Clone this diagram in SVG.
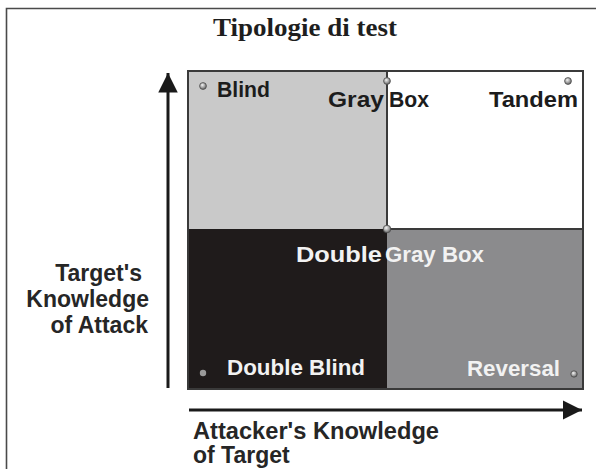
<svg xmlns="http://www.w3.org/2000/svg" width="596" height="469" viewBox="0 0 596 469">
  <style>
    .title { font-family: "Liberation Serif", "Times New Roman", serif; font-weight: bold; font-size: 26px; fill: #1e1e1e; }
    .axis { font-family: "Liberation Sans", Arial, sans-serif; font-weight: bold; font-size: 23px; fill: #262626; }
    .q { font-family: "Liberation Sans", Arial, sans-serif; font-weight: bold; font-size: 22px; }
    .dark { fill: #1c1c1c; }
    .light { fill: #f2f2f2; }
    .cell { stroke: none; }
    .grid { fill: none; stroke: #3a3a3a; stroke-width: 2; }
    .axisline { stroke: #1a1a1a; stroke-width: 3; fill: none; }
    .bullet { fill: url(#ball); stroke: #4a4a4a; stroke-width: 0.8; }
  </style>
  <defs>
    <radialGradient id="ball" cx="0.4" cy="0.35" r="0.7">
      <stop offset="0" stop-color="#f4f4f4"/>
      <stop offset="0.5" stop-color="#a8a8a8"/>
      <stop offset="1" stop-color="#5a5a5a"/>
    </radialGradient>
    <marker id="arrow" viewBox="0 0 10 10" refX="10" refY="5" markerWidth="6.5" markerHeight="6.5" orient="auto" markerUnits="strokeWidth">
      <path d="M0,0 L10,5 L0,10 Z" fill="#1a1a1a"/>
    </marker>
  </defs>

  <rect x="0" y="0" width="596" height="469" fill="#ffffff"/>
  <path d="M6.5,469 V8.5 H596" fill="none" stroke="#4a4a4a" stroke-width="1.6"/>

  <text class="title" x="305" y="36" text-anchor="middle" textLength="184" lengthAdjust="spacingAndGlyphs">Tipologie di test</text>

  <g id="quadrant-blind">
    <rect class="cell" x="188" y="71" width="199" height="158" fill="#c9c9c9"/>
  </g>
  <g id="quadrant-tandem">
    <rect class="cell" x="387" y="71" width="196" height="158" fill="#ffffff"/>
  </g>
  <g id="quadrant-double-blind">
    <rect class="cell" x="188" y="229" width="199" height="160" fill="#1f1b1b"/>
  </g>
  <g id="quadrant-reversal">
    <rect class="cell" x="387" y="229" width="196" height="160" fill="#8b8b8d"/>
  </g>
  <g id="grid-lines">
    <rect class="grid" x="188" y="71" width="395" height="318"/>
    <line class="grid" x1="387" y1="71" x2="387" y2="229"/>
    <line class="grid" x1="387" y1="229" x2="583" y2="229"/>
  </g>

  <g id="node-blind">
    <circle class="bullet" cx="203" cy="86" r="3.4"/>
    <text class="q dark" x="217" y="97" textLength="53" lengthAdjust="spacingAndGlyphs">Blind</text>
  </g>
  <g id="node-graybox">
    <circle class="bullet" cx="387" cy="81" r="3.4"/>
    <text class="q dark" y="107"><tspan x="328" textLength="56" lengthAdjust="spacingAndGlyphs">Gray</tspan><tspan x="389" textLength="40" lengthAdjust="spacingAndGlyphs">Box</tspan></text>
  </g>
  <g id="node-tandem">
    <circle class="bullet" cx="568" cy="81" r="3.4"/>
    <text class="q dark" x="489" y="107" textLength="89" lengthAdjust="spacingAndGlyphs">Tandem</text>
  </g>
  <g id="node-doublegraybox">
    <circle class="bullet" cx="387" cy="229" r="3.8"/>
    <text class="q light" y="262"><tspan x="296" textLength="86" lengthAdjust="spacingAndGlyphs">Double</tspan><tspan x="385" textLength="99" lengthAdjust="spacingAndGlyphs">Gray Box</tspan></text>
  </g>
  <g id="node-doubleblind">
    <circle cx="203" cy="373" r="3.2" fill="#9a9a9a"/>
    <text class="q light" x="227" y="375" textLength="138" lengthAdjust="spacingAndGlyphs">Double Blind</text>
  </g>
  <g id="node-reversal">
    <circle class="bullet" cx="574" cy="374" r="3.2"/>
    <text class="q light" x="467" y="376" textLength="93" lengthAdjust="spacingAndGlyphs">Reversal</text>
  </g>

  <g id="connectors">
    <line class="axisline" x1="168" y1="388" x2="168" y2="73" marker-end="url(#arrow)"/>
    <line class="axisline" x1="189" y1="410" x2="582" y2="410" marker-end="url(#arrow)"/>
  </g>

  <g id="label-y">
    <text class="axis" text-anchor="end"><tspan x="142" y="281">Target's</tspan><tspan x="149" y="307">Knowledge</tspan><tspan x="148" y="333">of Attack</tspan></text>
  </g>
  <g id="label-x">
    <text class="axis"><tspan x="193" y="439" textLength="246" lengthAdjust="spacingAndGlyphs">Attacker's Knowledge</tspan><tspan x="193" y="463">of Target</tspan></text>
  </g>
</svg>
